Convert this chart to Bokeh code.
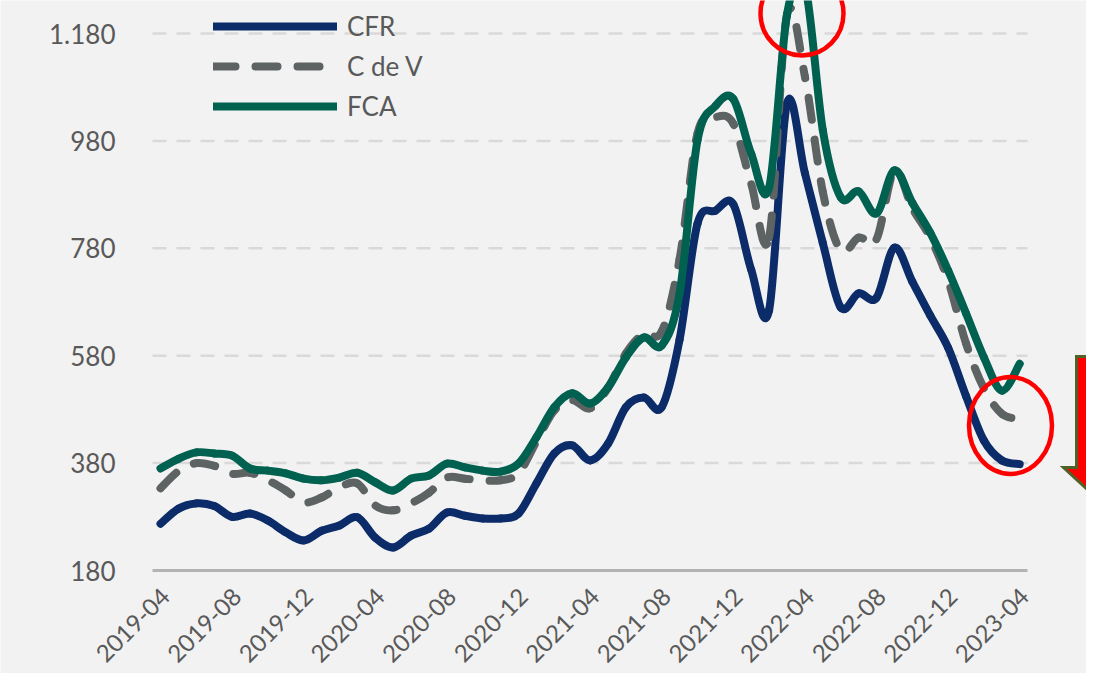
import math
import pandas as pd
from bokeh.plotting import figure
from bokeh.models import (Range1d, FixedTicker, Legend, LegendItem, LinearAxis,
                          ColumnDataSource)
from bokeh.embed import file_html
from bokeh.resources import INLINE

# ---------------- data ----------------
months = [str(m) for m in pd.period_range("2019-04", "2023-04", freq="M")]
tick_months = months[::4]

cfr = [267, 295, 305, 300, 280, 286, 273, 251, 236, 254, 264, 279, 241, 223, 245, 258,
       288, 282, 277, 277, 286, 342, 398, 413, 385, 416, 484, 502, 484, 610, 826, 850,
       862, 740, 665, 1050, 920, 790, 670, 696, 688, 781, 718, 655, 595, 505, 422, 385, 378]
cdv = [333, 365, 380, 375, 360, 362, 348, 329, 307, 316, 335, 342, 301, 292, 305, 325,
       353, 351, 348, 348, 361, 420, 478, 497, 482, 520, 584, 621, 625, 760, 994, 1024,
       1012, 900, 800, 1215, 1100, 885, 776, 800, 797, 925, 855, 800, 720, 603, 519, 472, 462]
fca = [370, 388, 400, 398, 394, 370, 366, 361, 351, 348, 353, 362, 344, 329, 351, 357,
       379, 372, 366, 364, 379, 428, 484, 510, 491, 521, 577, 614, 599, 696, 981, 1045,
       1058, 956, 893, 1215, 1270, 1000, 875, 886, 845, 925, 865, 809, 739, 659, 577, 515, 565]

y_ticks = [180, 380, 580, 780, 980, 1180]
y_tick_labels = ["180", "380", "580", "780", "980", "1.180"]

x = list(range(len(months)))
tick_x = x[::4]

# ---------------- layout constants (canvas px) ----------------
W, H = 1086, 673
PLOT_LEFT_PX, AXIS_PX = 152, 570     # y-axis position / x-axis line
FIRST_PX = 160                       # px of first month
PX_PER_MONTH = 17.9
PX_PER_UNIT = 0.537
Y_AXIS = 180


def sx(px):
    return (px - FIRST_PX) / PX_PER_MONTH


def sy(py):
    return Y_AXIS + (AXIS_PX - py) / PX_PER_UNIT


X_LEFT, X_RIGHT = sx(0), sx(W)
Y_BOTTOM, Y_TOP = sy(H), sy(0)
X_PLOT0 = sx(PLOT_LEFT_PX)
AXIS_END = sx(1027)
LAB_SHIFT = 5 / PX_PER_MONTH        # tick labels sit a few px right of the tick

TEXT = "#595959"
FONT = "Lato"
BG = "#f2f2f2"
C_CFR, C_CDV, C_FCA = "#0b2c68", "#5d6263", "#006150"
LW = 8
DASH = (22, 20)
DASH_STR = "%d %d" % DASH

p = figure(width=W, height=H, output_backend="svg", toolbar_location=None,
           x_range=Range1d(X_LEFT, X_RIGHT), y_range=Range1d(Y_BOTTOM, Y_TOP),
           x_axis_location=None, y_axis_location=None,
           min_border_left=0, min_border_right=0, min_border_top=0,
           min_border_bottom=0)
p.extra_x_ranges = {"lab": Range1d(X_LEFT - LAB_SHIFT, X_RIGHT - LAB_SHIFT)}
p.background_fill_color = BG
p.border_fill_color = BG
p.outline_line_color = None
p.xgrid.visible = False
p.ygrid.visible = False

# dashed gridlines from the tick values
gy = y_ticks[1:]
p.segment(x0=[X_PLOT0] * len(gy), x1=[AXIS_END] * len(gy), y0=gy, y1=gy,
          line_color="#d9d9d9", line_width=2.5, line_dash="14 10")


def smooth(xs, ys):
    """Smoothed line (like a spreadsheet 'smoothed line'): cubic Bezier pieces
    through consecutive data points with Catmull-Rom control points."""
    n = len(xs)
    d = dict(x0=[], y0=[], x1=[], y1=[], cx0=[], cy0=[], cx1=[], cy1=[], off=[])
    acc = 0.0
    period = sum(DASH)

    def L(u, v):
        return math.hypot((v[0] - u[0]) * PX_PER_MONTH, (v[1] - u[1]) * PX_PER_UNIT)

    for i in range(n - 1):
        a = max(i - 1, 0)
        b = min(i + 2, n - 1)
        p0 = (xs[i], ys[i])
        p1 = (xs[i + 1], ys[i + 1])
        c0 = (xs[i] + (xs[i + 1] - xs[a]) / 6, ys[i] + (ys[i + 1] - ys[a]) / 6)
        c1 = (xs[i + 1] - (xs[b] - xs[i]) / 6, ys[i + 1] - (ys[b] - ys[i]) / 6)
        d["x0"].append(p0[0]); d["y0"].append(p0[1])
        d["x1"].append(p1[0]); d["y1"].append(p1[1])
        d["cx0"].append(c0[0]); d["cy0"].append(c0[1])
        d["cx1"].append(c1[0]); d["cy1"].append(c1[1])
        d["off"].append(acc % period)
        chord = L(p0, p1)
        poly = L(p0, c0) + L(c0, c1) + L(c1, p1)
        acc += (chord + poly) / 2
    return ColumnDataSource(d)


def draw(ys, color, dashed=False):
    src = smooth(x, ys)
    kw = dict(line_color=color, line_width=LW, line_cap="round")
    if dashed:
        kw.update(line_dash=DASH_STR, line_dash_offset="off")
    p.bezier(x0="x0", y0="y0", x1="x1", y1="y1", cx0="cx0", cy0="cy0",
             cx1="cx1", cy1="cy1", source=src, **kw)


draw(cfr, C_CFR)
draw(cdv, C_CDV, dashed=True)
draw(fca, C_FCA)

# legend proxies (style only, nothing drawn in the plot)
nan2 = [float("nan")] * 2
r_cfr = p.line(x=nan2, y=nan2, line_color=C_CFR, line_width=LW, line_cap="round")
r_cdv = p.line(x=nan2, y=nan2, line_color=C_CDV, line_width=LW, line_cap="round",
               line_dash=DASH_STR)
r_fca = p.line(x=nan2, y=nan2, line_color=C_FCA, line_width=LW, line_cap="round")

# red highlight ellipses
p.ellipse(x=[sx(801.5), sx(1010)], y=[sy(13), sy(425)],
          width=[83 / PX_PER_MONTH, 83 / PX_PER_MONTH],
          height=[84 / PX_PER_UNIT, 97 / PX_PER_UNIT],
          fill_color=None, line_color="#ff0000", line_width=4.5)

# red down arrow
ax = [1076, 1102, 1102, 1115, 1089, 1063, 1076]
ay = [356, 356, 467, 467, 491, 467, 467]
p.patch([sx(v) for v in ax], [sy(v) for v in ay], fill_color="#ff0000",
        line_color="#4f6228", line_width=3, line_join="miter")

# x axis drawn at the value 180, labels rotated
xa = LinearAxis(x_range_name="lab", fixed_location=Y_AXIS)
xa.ticker = FixedTicker(ticks=tick_x)
xa.major_label_overrides = {t: l for t, l in zip(tick_x, tick_months)}
xa.major_label_orientation = math.pi / 4
xa.major_label_text_font = FONT
xa.major_label_text_font_size = "24px"
xa.major_label_text_color = TEXT
xa.major_label_standoff = 22
xa.major_tick_line_color = None
xa.minor_tick_line_color = None
xa.major_tick_out = 0
xa.major_tick_in = 0
xa.axis_line_color = "#b3b3b3"
xa.axis_line_width = 3
xa.bounds = (X_PLOT0 - LAB_SHIFT, AXIS_END - LAB_SHIFT)
p.add_layout(xa, "below")

# y axis drawn at the left edge of the plotting area
ya = LinearAxis(fixed_location=X_PLOT0)
ya.ticker = FixedTicker(ticks=y_ticks)
ya.major_label_overrides = {t: l for t, l in zip(y_ticks, y_tick_labels)}
ya.major_label_text_font = FONT
ya.major_label_text_font_size = "26px"
ya.major_label_text_color = TEXT
ya.axis_line_color = None
ya.major_tick_line_color = None
ya.minor_tick_line_color = None
ya.major_tick_out = 0
ya.major_tick_in = 0
ya.major_label_standoff = 37
p.add_layout(ya, "left")

legend = Legend(items=[LegendItem(label="CFR", renderers=[r_cfr]),
                       LegendItem(label="C de V", renderers=[r_cdv]),
                       LegendItem(label="FCA", renderers=[r_fca])],
                location=(213, 448 + (H - AXIS_PX)))
legend.background_fill_alpha = 0
legend.border_line_color = None
legend.padding = 0
legend.margin = 0
legend.spacing = 8
legend.glyph_width = 124
legend.glyph_height = 30
legend.label_height = 30
legend.label_standoff = 10
legend.label_text_font = FONT
legend.label_text_font_size = "26px"
legend.label_text_color = TEXT
p.add_layout(legend, "center")

open("out.html", "w").write(file_html(p, INLINE))
